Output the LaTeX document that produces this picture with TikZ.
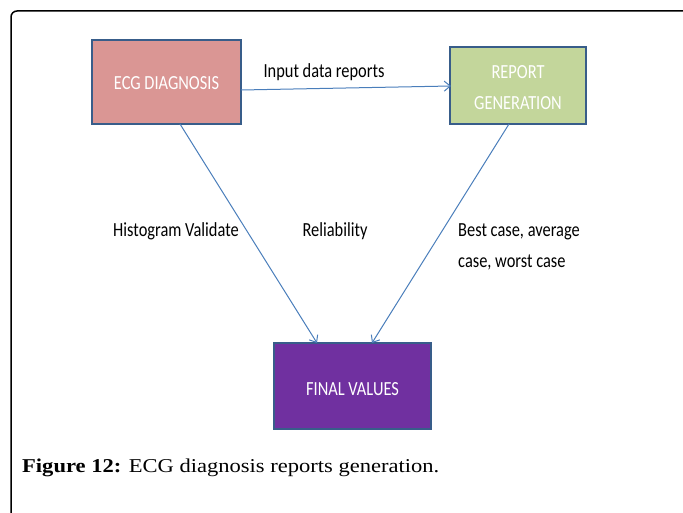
\documentclass[tikz,border=0pt]{standalone}
\usepackage{fontspec}
\setmainfont{Carlito}
\newfontfamily\diag[FakeStretch=0.82]{Carlito}
\newfontfamily\capfont[FakeStretch=1.15]{Liberation Serif}
\usetikzlibrary{arrows.meta}
\definecolor{bordc}{HTML}{385D8A}
\definecolor{pinkc}{HTML}{DA9694}
\definecolor{greenc}{HTML}{C3D69B}
\definecolor{purpc}{HTML}{7030A0}
\definecolor{arrc}{HTML}{4A7EBB}
\tikzset{
  box/.style={draw=bordc, line width=2pt, minimum width=#1, inner sep=0pt},
  boxtxt/.style={text=white, inner sep=0pt, anchor=base, font=\diag\fontsize{20}{24}\selectfont},
  conn/.style={draw=arrc, line width=1pt, -{Straight Barb[length=6pt,width=10pt]}},
  lbl/.style={font=\diag\fontsize{20}{31}\selectfont, text=black, inner sep=0pt, anchor=base}
}
\begin{document}
\begin{tikzpicture}[x=1pt,y=-1pt]
\useasboundingbox (0,0) rectangle (683,513);
\draw[line width=1.5pt, black] (11,513) -- (11,17) arc[start angle=180,end angle=270,radius=6] -- (683,11);
\node[box=149pt, minimum height=84pt, fill=pinkc] (ecg) at (166.5,82) {};
\node[box=136pt, minimum height=77pt, fill=greenc] (rep) at (518,85.5) {};
\node[box=157pt, minimum height=86pt, fill=purpc] (fin) at (352.5,386) {};
\node[boxtxt] (t1) at (166.5,90) {ECG DIAGNOSIS};
\node[boxtxt] (t2) at (518,79) {REPORT};
\node[boxtxt] (t3) at (518,110) {GENERATION};
\node[boxtxt] (t4) at (352.5,395) {FINAL VALUES};
\coordinate (a1) at (241,90);
\coordinate (a2) at (451,86);
\draw[conn] (a1) -- (a2);
\coordinate (b1) at (180,124);
\coordinate (b2) at (317,343);
\draw[conn] (b1) -- (b2);
\coordinate (c1) at (509,124);
\coordinate (c2) at (372,343);
\draw[conn] (c1) -- (c2);
\node[lbl] (l1) at (324,78) {Input data reports};
\node[lbl] (l2) at (176,237) {Histogram Validate};
\node[lbl] (l3) at (335,237) {Reliability};
\node[lbl, anchor=base west] (l4) at (458,237) {Best case, average};
\node[lbl, anchor=base west] (l5) at (458,268) {case, worst case};
\node[anchor=base west, inner sep=0pt, font=\capfont\fontsize{19.6}{22}\selectfont] (cap) at (22,472) {\textbf{Figure 12:} ECG diagnosis reports generation.};
\end{tikzpicture}
\end{document}
